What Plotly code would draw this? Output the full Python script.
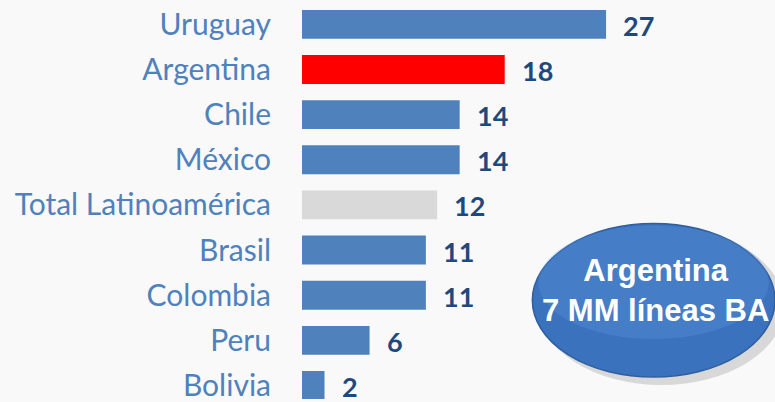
import plotly.graph_objects as go

paises = ["Uruguay", "Argentina", "Chile", "México", "Total Latinoamérica",
          "Brasil", "Colombia", "Peru", "Bolivia"]
valores = [27, 18, 14, 14, 12, 11, 11, 6, 2]
colores = ["#4F81BD", "#FF0000", "#4F81BD", "#4F81BD", "#D9D9D9",
           "#4F81BD", "#4F81BD", "#4F81BD", "#4F81BD"]
burbuja = "Argentina<br>7 MM líneas BA"

fig = go.Figure(go.Bar(
    x=valores, y=paises, orientation="h",
    marker=dict(color=colores, line=dict(width=0)),
    hoverinfo="skip",
))

# etiquetas de valor a la derecha de cada barra
for p, v in zip(paises, valores):
    fig.add_annotation(x=v, y=p, text=f"<b>{v}</b>", showarrow=False,
                       xanchor="left", xshift=15, yshift=-1,
                       font=dict(family="Lato", size=27, color="#1F497D"))

# burbuja: sombra + elipse + brillo
fig.add_shape(type="circle", xref="paper", yref="paper",
              x0=0.50, x1=1.02, y0=0.035, y1=0.43,
              fillcolor="rgba(0,0,0,0.13)", line=dict(width=0), layer="above")
fig.add_shape(type="circle", xref="paper", yref="paper",
              x0=0.487, x1=1.0, y0=0.055, y1=0.44,
              fillcolor="#3A72BE", line=dict(color="#2F5F9E", width=1.5), layer="above")
fig.add_shape(type="circle", xref="paper", yref="paper",
              x0=0.50, x1=0.987, y0=0.15, y1=0.435,
              fillcolor="rgba(110,165,230,0.22)", line=dict(width=0), layer="above")
fig.add_annotation(xref="paper", yref="paper", x=0.748, y=0.272,
                   xanchor="center", yanchor="middle",
                   text=f"<b>{burbuja}</b>", showarrow=False,
                   font=dict(family="Liberation Sans", size=31, color="white"),
                   align="center")

fig.update_layout(
    width=775, height=402,
    margin=dict(l=302, r=0, t=0, b=0),
    paper_bgcolor="#F9F9F9", plot_bgcolor="#F9F9F9",
    bargap=0.36, showlegend=False,
    font=dict(family="Lato"),
)
fig.update_xaxes(range=[0, 42], visible=False, showgrid=False, zeroline=False)
fig.update_yaxes(range=[8.3, -0.54], showgrid=False, zeroline=False, showline=False,
                 ticks="", ticklabelstandoff=30,
                 tickfont=dict(family="Lato", size=30, color="#4F81BD"))

fig.write_html("out.html", config={"displayModeBar": False},
               post_script="document.body.style.margin='0';")
